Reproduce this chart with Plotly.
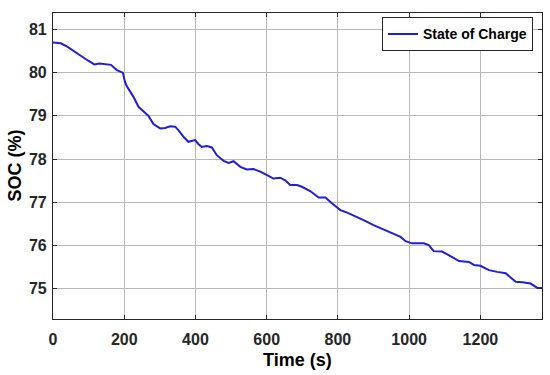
import plotly.graph_objects as go

time_s = [0, 22, 40, 60, 80, 100, 116, 130, 163, 179, 196, 202, 207, 226, 240, 268, 282, 301, 315, 329,
          343, 352, 366, 380, 390, 399, 408, 418, 432, 446, 460, 479, 493, 507, 526, 544, 563, 582, 605, 619,
          638, 652, 666, 685, 699, 722, 746, 765, 783, 807, 826, 844, 872, 900, 933, 957, 976, 990, 1008, 1041,
          1055, 1069, 1092, 1111, 1140, 1168, 1182, 1200, 1224, 1247, 1271, 1299, 1318, 1341, 1360, 1373]
soc = [80.70, 80.68, 80.60, 80.50, 80.38, 80.27, 80.19, 80.21, 80.18, 80.06, 80.00, 79.79, 79.69, 79.44, 79.21,
       79.00, 78.81, 78.71, 78.72, 78.76, 78.75, 78.67, 78.52, 78.40, 78.42, 78.44, 78.35, 78.28, 78.30, 78.27,
       78.09, 77.96, 77.91, 77.95, 77.82, 77.76, 77.77, 77.71, 77.61, 77.55, 77.57, 77.51, 77.40, 77.40, 77.36,
       77.26, 77.11, 77.11, 76.98, 76.82, 76.76, 76.70, 76.59, 76.47, 76.36, 76.28, 76.20, 76.10, 76.05, 76.05,
       76.01, 75.87, 75.86, 75.78, 75.64, 75.62, 75.55, 75.53, 75.43, 75.39, 75.36, 75.16, 75.15, 75.12, 75.02,
       75.02]
x_ticks = [0, 200, 400, 600, 800, 1000, 1200]
y_ticks = [75, 76, 77, 78, 79, 80, 81]

FONT = "Arial, Liberation Sans, sans-serif"
DARK = "#262626"

fig = go.Figure()
fig.add_trace(go.Scatter(x=time_s, y=soc, mode="lines", name="State of Charge",
                         line=dict(color="#1f1fd6", width=2)))

axis_common = dict(
    showgrid=True, gridcolor="#b8b8b8", gridwidth=1,
    showline=True, linecolor=DARK, linewidth=1.2, mirror="ticks",
    ticks="inside", ticklen=4, tickcolor=DARK, tickwidth=1,
    zeroline=False, automargin=False,
    tickfont=dict(family=FONT, size=16, color=DARK, weight="bold"),
)

fig.update_xaxes(range=[0, 1373], tickvals=x_ticks, ticklabelstandoff=6, **axis_common)
fig.update_yaxes(range=[74.3, 81.38], tickvals=y_ticks, ticklabelstandoff=2, **axis_common)

title_font = dict(family=FONT, size=18, color="black", weight="bold")
fig.add_annotation(text="Time (s)", xref="paper", yref="paper", x=0.5, y=-41 / 305.7,
                   xanchor="center", yanchor="middle", showarrow=False, font=title_font)
fig.add_annotation(text="SOC (%)", xref="paper", yref="paper", x=-38.5 / 489, y=0.5,
                   xanchor="center", yanchor="middle", textangle=-90, showarrow=False, font=title_font)

fig.update_layout(
    width=550, height=375,
    margin=dict(l=53, r=8, t=13, b=56, autoexpand=False),
    paper_bgcolor="white", plot_bgcolor="white",
    showlegend=True,
    legend=dict(x=0.9816, y=0.986, xanchor="right", yanchor="top",
                bgcolor="white", bordercolor=DARK, borderwidth=1,
                font=dict(family=FONT, size=14, color="black", weight="bold"),
                tracegroupgap=0),
)

fig.write_html("out.html", config={"displayModeBar": False},
               post_script="document.body.style.margin='0';document.body.style.overflow='hidden';")
